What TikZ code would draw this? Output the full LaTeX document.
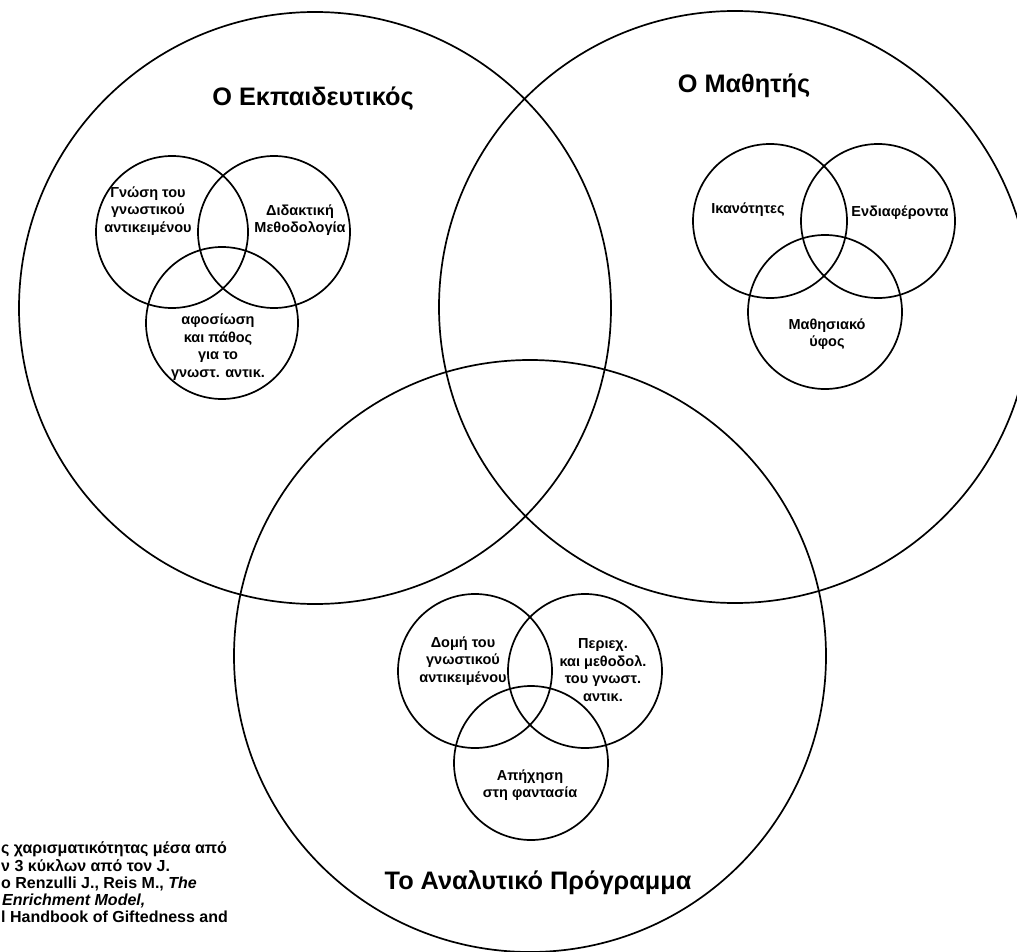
\documentclass[tikz,border=0pt]{standalone}
\usepackage{fontspec}
\setmainfont{Liberation Sans}
\begin{document}
\begin{tikzpicture}[x=1pt,y=-1pt,
  ring/.style={circle, draw, line width=1.7pt, minimum size=#1, inner sep=0pt},
  ttl/.style={font=\bfseries\fontsize{25.3}{30}\selectfont, inner sep=0pt},
  lab/.style={font=\bfseries\fontsize{14.5}{17.5}\selectfont, align=center, inner sep=0pt},
  captxt/.style={font=\bfseries\fontsize{16}{17.5}\selectfont, anchor=base west, inner sep=0pt}]
\useasboundingbox (0,0) rectangle (1017,952);
\clip (0,0) rectangle (1017,952);
% big circles
\node[ring=592pt] (A) at (315,308) {};
\node[ring=592pt] (B) at (735,307) {};
\node[ring=592pt] (C) at (530,656) {};
% teacher inner
\node[ring=152pt] (a1) at (172,232) {};
\node[ring=152pt] (a2) at (274,232) {};
\node[ring=152pt] (a3) at (222,323) {};
% student inner
\node[ring=154pt] (b1) at (770,221) {};
\node[ring=154pt] (b2) at (878,221) {};
\node[ring=154pt] (b3) at (825,312) {};
% curriculum inner
\node[ring=154pt] (c1) at (475,671) {};
\node[ring=154pt] (c2) at (585,671) {};
\node[ring=154pt] (c3) at (531,763) {};
% titles
\node[ttl] (tA) at (313,99) {Ο Εκπαιδευτικός};
\node[ttl] (tB) at (744,86) {Ο Μαθητής};
\node[ttl] (tC) at (538,883) {Το Αναλυτικό Πρόγραμμα};
% labels
\node[lab] (la1) at (148,211) {Γνώση του\\γνωστικού\\αντικειμένου};
\node[lab] (la2) at (300,220) {Διδακτική\\Μεθοδολογία};
\node[lab] (la3) at (218,347) {αφοσίωση\\και πάθος\\για το\\γνωστ. αντικ.};
\node[lab] (lb1) at (748,210) {Ικανότητες};
\node[lab] (lb2) at (900,213) {Ενδιαφέροντα};
\node[lab] (lb3) at (827,334) {Μαθησιακό\\ύφος};
\node[lab] (lc1) at (463,661) {Δομή του\\γνωστικού\\αντικειμένου};
\node[lab] (lc2) at (603,670) {Περιεχ.\\και μεθοδολ.\\του γνωστ.\\αντικ.};
\node[lab] (lc3) at (530,785) {Απήχηση\\στη φαντασία};
% caption
\node[captxt] (k1) at (1,853) {ς χαρισματικότητας μέσα από};
\node[captxt] (k2) at (1,871) {ν 3 κύκλων από τον J.};
\node[captxt] (k3) at (1,888) {ο Renzulli J., Reis M., \textit{The}};
\node[captxt] (k4) at (2,905) {\textit{Enrichment Model,}};
\node[captxt] (k5) at (1,922) {l Handbook of Giftedness and};
\end{tikzpicture}
\end{document}
